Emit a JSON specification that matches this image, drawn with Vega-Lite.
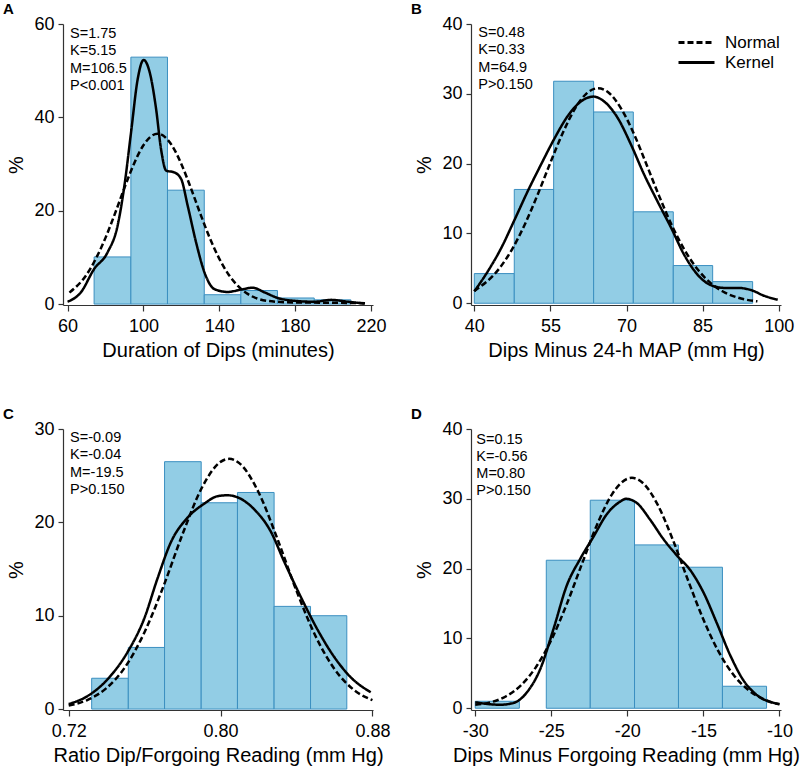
{
  "$schema": "https://vega.github.io/schema/vega-lite/v6.json",
  "padding": {"left": 2, "top": 2, "right": 5, "bottom": 5},
  "background": "white",
  "config": {
    "view": {"stroke": null},
    "font": "Liberation Sans",
    "axis": {
      "grid": false,
      "domainColor": "#333333",
      "tickColor": "#333333",
      "domainWidth": 1.2,
      "tickWidth": 1.2,
      "labelFont": "Liberation Sans",
      "labelFontSize": 18,
      "labelColor": "black",
      "titleFont": "Liberation Sans",
      "titleFontSize": 20,
      "titleFontWeight": "normal",
      "titleColor": "black"
    },
    "axisX": {"tickSize": 6, "labelPadding": 6, "titlePadding": 5, "labelFlush": false},
    "axisY": {"tickSize": 5, "labelPadding": 4, "titlePadding": 7, "labelFlush": false},
    "title": {"anchor": "start", "fontSize": 15, "fontWeight": "bold", "font": "Liberation Sans", "color": "black", "offset": -2, "dx": -4},
    "text": {"align": "left", "baseline": "alphabetic", "fontSize": 14.5, "color": "black", "font": "Liberation Sans"}
  },
  "datasets": {
    "bars": [
      {"panel": "A", "lo": 74.0, "hi": 93.4, "pct": 10.1},
      {"panel": "A", "lo": 93.4, "hi": 112.7, "pct": 52.9},
      {"panel": "A", "lo": 112.7, "hi": 132.1, "pct": 24.4},
      {"panel": "A", "lo": 132.1, "hi": 151.4, "pct": 2.0},
      {"panel": "A", "lo": 151.4, "hi": 170.7, "pct": 2.9},
      {"panel": "A", "lo": 170.7, "hi": 190.1, "pct": 1.3},
      {"panel": "A", "lo": 190.1, "hi": 209.4, "pct": 0.9},
      {"panel": "B", "lo": 40.0, "hi": 47.88, "pct": 4.25},
      {"panel": "B", "lo": 47.88, "hi": 55.64, "pct": 16.3},
      {"panel": "B", "lo": 55.64, "hi": 63.52, "pct": 31.8},
      {"panel": "B", "lo": 63.52, "hi": 71.34, "pct": 27.4},
      {"panel": "B", "lo": 71.34, "hi": 79.22, "pct": 13.1},
      {"panel": "B", "lo": 79.22, "hi": 86.98, "pct": 5.4},
      {"panel": "B", "lo": 86.98, "hi": 94.86, "pct": 3.1},
      {"panel": "C", "lo": 0.7321, "hi": 0.7514, "pct": 3.3},
      {"panel": "C", "lo": 0.7514, "hi": 0.7705, "pct": 6.6},
      {"panel": "C", "lo": 0.7705, "hi": 0.7898, "pct": 26.5},
      {"panel": "C", "lo": 0.7898, "hi": 0.8089, "pct": 22.1},
      {"panel": "C", "lo": 0.8089, "hi": 0.8282, "pct": 23.2},
      {"panel": "C", "lo": 0.8282, "hi": 0.8474, "pct": 11.0},
      {"panel": "C", "lo": 0.8474, "hi": 0.8665, "pct": 10.0},
      {"panel": "D", "lo": -30.0, "hi": -27.1, "pct": 1.0},
      {"panel": "D", "lo": -25.33, "hi": -22.44, "pct": 21.2},
      {"panel": "D", "lo": -22.44, "hi": -19.53, "pct": 29.8},
      {"panel": "D", "lo": -19.53, "hi": -16.64, "pct": 23.4},
      {"panel": "D", "lo": -16.64, "hi": -13.75, "pct": 20.2},
      {"panel": "D", "lo": -13.75, "hi": -10.85, "pct": 3.15}
    ],
    "stats": [
      {"panel": "A", "line": 1, "text": "S=1.75"},
      {"panel": "A", "line": 2, "text": "K=5.15"},
      {"panel": "A", "line": 3, "text": "M=106.5"},
      {"panel": "A", "line": 4, "text": "P<0.001"},
      {"panel": "B", "line": 1, "text": "S=0.48"},
      {"panel": "B", "line": 2, "text": "K=0.33"},
      {"panel": "B", "line": 3, "text": "M=64.9"},
      {"panel": "B", "line": 4, "text": "P>0.150"},
      {"panel": "C", "line": 1, "text": "S=-0.09"},
      {"panel": "C", "line": 2, "text": "K=-0.04"},
      {"panel": "C", "line": 3, "text": "M=-19.5"},
      {"panel": "C", "line": 4, "text": "P>0.150"},
      {"panel": "D", "line": 1, "text": "S=0.15"},
      {"panel": "D", "line": 2, "text": "K=-0.56"},
      {"panel": "D", "line": 3, "text": "M=0.80"},
      {"panel": "D", "line": 4, "text": "P>0.150"}
    ],
    "curves": [
      {"panel": "A", "curve": "Normal", "x": 61, "y": 2.45},
      {"panel": "A", "curve": "Normal", "x": 70, "y": 6.29},
      {"panel": "A", "curve": "Normal", "x": 80, "y": 14.18},
      {"panel": "A", "curve": "Normal", "x": 85, "y": 19.38},
      {"panel": "A", "curve": "Normal", "x": 90, "y": 24.89},
      {"panel": "A", "curve": "Normal", "x": 95, "y": 30.03},
      {"panel": "A", "curve": "Normal", "x": 100, "y": 34.02},
      {"panel": "A", "curve": "Normal", "x": 107.5, "y": 36.5},
      {"panel": "A", "curve": "Normal", "x": 115, "y": 34.02},
      {"panel": "A", "curve": "Normal", "x": 120, "y": 30.03},
      {"panel": "A", "curve": "Normal", "x": 125, "y": 24.89},
      {"panel": "A", "curve": "Normal", "x": 130, "y": 19.38},
      {"panel": "A", "curve": "Normal", "x": 135, "y": 14.18},
      {"panel": "A", "curve": "Normal", "x": 140, "y": 9.75},
      {"panel": "A", "curve": "Normal", "x": 145, "y": 6.29},
      {"panel": "A", "curve": "Normal", "x": 150, "y": 3.82},
      {"panel": "A", "curve": "Normal", "x": 155, "y": 2.18},
      {"panel": "A", "curve": "Normal", "x": 160, "y": 1.2},
      {"panel": "A", "curve": "Normal", "x": 170, "y": 0.5},
      {"panel": "A", "curve": "Normal", "x": 180, "y": 0.35},
      {"panel": "A", "curve": "Normal", "x": 195, "y": 0.3},
      {"panel": "A", "curve": "Normal", "x": 217, "y": 0.2},
      {"panel": "A", "curve": "Kernel", "x": 60, "y": 0.5},
      {"panel": "A", "curve": "Kernel", "x": 67, "y": 2.5},
      {"panel": "A", "curve": "Kernel", "x": 74, "y": 7.5},
      {"panel": "A", "curve": "Kernel", "x": 81, "y": 11.0},
      {"panel": "A", "curve": "Kernel", "x": 86.4, "y": 16.8},
      {"panel": "A", "curve": "Kernel", "x": 90, "y": 25.4},
      {"panel": "A", "curve": "Kernel", "x": 93.5, "y": 36.8},
      {"panel": "A", "curve": "Kernel", "x": 97, "y": 48.2},
      {"panel": "A", "curve": "Kernel", "x": 100.1, "y": 52.3},
      {"panel": "A", "curve": "Kernel", "x": 103.1, "y": 50.0},
      {"panel": "A", "curve": "Kernel", "x": 106.7, "y": 41.8},
      {"panel": "A", "curve": "Kernel", "x": 109.3, "y": 33.2},
      {"panel": "A", "curve": "Kernel", "x": 112, "y": 28.6},
      {"panel": "A", "curve": "Kernel", "x": 116.3, "y": 28.2},
      {"panel": "A", "curve": "Kernel", "x": 119.9, "y": 26.8},
      {"panel": "A", "curve": "Kernel", "x": 123.4, "y": 21.0},
      {"panel": "A", "curve": "Kernel", "x": 127.8, "y": 13.2},
      {"panel": "A", "curve": "Kernel", "x": 132.2, "y": 6.8},
      {"panel": "A", "curve": "Kernel", "x": 137.5, "y": 3.2},
      {"panel": "A", "curve": "Kernel", "x": 144.5, "y": 2.6},
      {"panel": "A", "curve": "Kernel", "x": 151.5, "y": 3.1},
      {"panel": "A", "curve": "Kernel", "x": 157.7, "y": 3.5},
      {"panel": "A", "curve": "Kernel", "x": 163.9, "y": 2.5},
      {"panel": "A", "curve": "Kernel", "x": 170.9, "y": 1.3},
      {"panel": "A", "curve": "Kernel", "x": 179.7, "y": 0.7},
      {"panel": "A", "curve": "Kernel", "x": 190.3, "y": 0.5},
      {"panel": "A", "curve": "Kernel", "x": 199, "y": 0.9},
      {"panel": "A", "curve": "Kernel", "x": 207.9, "y": 0.5},
      {"panel": "A", "curve": "Kernel", "x": 216.7, "y": 0.1},
      {"panel": "B", "curve": "Normal", "x": 40, "y": 1.76},
      {"panel": "B", "curve": "Normal", "x": 45, "y": 5.05},
      {"panel": "B", "curve": "Normal", "x": 47.5, "y": 7.8},
      {"panel": "B", "curve": "Normal", "x": 50, "y": 11.36},
      {"panel": "B", "curve": "Normal", "x": 52.5, "y": 15.59},
      {"panel": "B", "curve": "Normal", "x": 55, "y": 20.14},
      {"panel": "B", "curve": "Normal", "x": 57.5, "y": 24.5},
      {"panel": "B", "curve": "Normal", "x": 60, "y": 28.06},
      {"panel": "B", "curve": "Normal", "x": 62, "y": 29.96},
      {"panel": "B", "curve": "Normal", "x": 64.4, "y": 30.8},
      {"panel": "B", "curve": "Normal", "x": 66.5, "y": 30.16},
      {"panel": "B", "curve": "Normal", "x": 69, "y": 27.81},
      {"panel": "B", "curve": "Normal", "x": 71.5, "y": 24.2},
      {"panel": "B", "curve": "Normal", "x": 74, "y": 19.78},
      {"panel": "B", "curve": "Normal", "x": 76.5, "y": 15.24},
      {"panel": "B", "curve": "Normal", "x": 79, "y": 11.06},
      {"panel": "B", "curve": "Normal", "x": 81.5, "y": 7.56},
      {"panel": "B", "curve": "Normal", "x": 84, "y": 4.86},
      {"panel": "B", "curve": "Normal", "x": 86.5, "y": 2.95},
      {"panel": "B", "curve": "Normal", "x": 89, "y": 1.68},
      {"panel": "B", "curve": "Normal", "x": 92, "y": 0.79},
      {"panel": "B", "curve": "Normal", "x": 95.8, "y": 0.27},
      {"panel": "B", "curve": "Kernel", "x": 40, "y": 1.7},
      {"panel": "B", "curve": "Kernel", "x": 42.6, "y": 4.5},
      {"panel": "B", "curve": "Kernel", "x": 45.3, "y": 7.9},
      {"panel": "B", "curve": "Kernel", "x": 47.9, "y": 11.9},
      {"panel": "B", "curve": "Kernel", "x": 50.5, "y": 16.0},
      {"panel": "B", "curve": "Kernel", "x": 53.1, "y": 19.8},
      {"panel": "B", "curve": "Kernel", "x": 55.8, "y": 23.6},
      {"panel": "B", "curve": "Kernel", "x": 58.4, "y": 26.8},
      {"panel": "B", "curve": "Kernel", "x": 61, "y": 28.9},
      {"panel": "B", "curve": "Kernel", "x": 63.5, "y": 29.6},
      {"panel": "B", "curve": "Kernel", "x": 65.6, "y": 28.9},
      {"panel": "B", "curve": "Kernel", "x": 68.3, "y": 26.5},
      {"panel": "B", "curve": "Kernel", "x": 70.9, "y": 22.7},
      {"panel": "B", "curve": "Kernel", "x": 73.5, "y": 18.4},
      {"panel": "B", "curve": "Kernel", "x": 76.1, "y": 14.6},
      {"panel": "B", "curve": "Kernel", "x": 78.8, "y": 10.8},
      {"panel": "B", "curve": "Kernel", "x": 81.4, "y": 6.9},
      {"panel": "B", "curve": "Kernel", "x": 84, "y": 4.1},
      {"panel": "B", "curve": "Kernel", "x": 86.6, "y": 2.6},
      {"panel": "B", "curve": "Kernel", "x": 89.3, "y": 2.2},
      {"panel": "B", "curve": "Kernel", "x": 91.9, "y": 2.2},
      {"panel": "B", "curve": "Kernel", "x": 94.5, "y": 1.9},
      {"panel": "B", "curve": "Kernel", "x": 97.2, "y": 1.05},
      {"panel": "B", "curve": "Kernel", "x": 99.8, "y": 0.5},
      {"panel": "C", "curve": "Normal", "x": 0.72, "y": 0.38},
      {"panel": "C", "curve": "Normal", "x": 0.73, "y": 0.99},
      {"panel": "C", "curve": "Normal", "x": 0.74, "y": 2.26},
      {"panel": "C", "curve": "Normal", "x": 0.75, "y": 4.58},
      {"panel": "C", "curve": "Normal", "x": 0.76, "y": 8.26},
      {"panel": "C", "curve": "Normal", "x": 0.77, "y": 13.2},
      {"panel": "C", "curve": "Normal", "x": 0.78, "y": 18.75},
      {"panel": "C", "curve": "Normal", "x": 0.79, "y": 23.65},
      {"panel": "C", "curve": "Normal", "x": 0.80, "y": 26.48},
      {"panel": "C", "curve": "Normal", "x": 0.8045, "y": 26.8},
      {"panel": "C", "curve": "Normal", "x": 0.81, "y": 26.32},
      {"panel": "C", "curve": "Normal", "x": 0.82, "y": 23.23},
      {"panel": "C", "curve": "Normal", "x": 0.83, "y": 18.2},
      {"panel": "C", "curve": "Normal", "x": 0.84, "y": 12.67},
      {"panel": "C", "curve": "Normal", "x": 0.85, "y": 7.83},
      {"panel": "C", "curve": "Normal", "x": 0.86, "y": 4.29},
      {"panel": "C", "curve": "Normal", "x": 0.87, "y": 2.09},
      {"panel": "C", "curve": "Normal", "x": 0.88, "y": 0.95},
      {"panel": "C", "curve": "Kernel", "x": 0.72, "y": 0.54},
      {"panel": "C", "curve": "Kernel", "x": 0.73, "y": 1.4},
      {"panel": "C", "curve": "Kernel", "x": 0.7405, "y": 3.2},
      {"panel": "C", "curve": "Kernel", "x": 0.751, "y": 6.1},
      {"panel": "C", "curve": "Kernel", "x": 0.7598, "y": 9.7},
      {"panel": "C", "curve": "Kernel", "x": 0.7668, "y": 14.0},
      {"panel": "C", "curve": "Kernel", "x": 0.7739, "y": 17.9},
      {"panel": "C", "curve": "Kernel", "x": 0.7826, "y": 20.5},
      {"panel": "C", "curve": "Kernel", "x": 0.7914, "y": 22.0},
      {"panel": "C", "curve": "Kernel", "x": 0.7984, "y": 22.8},
      {"panel": "C", "curve": "Kernel", "x": 0.8037, "y": 22.9},
      {"panel": "C", "curve": "Kernel", "x": 0.8072, "y": 22.8},
      {"panel": "C", "curve": "Kernel", "x": 0.8177, "y": 21.4},
      {"panel": "C", "curve": "Kernel", "x": 0.8265, "y": 19.0},
      {"panel": "C", "curve": "Kernel", "x": 0.8335, "y": 15.8},
      {"panel": "C", "curve": "Kernel", "x": 0.8423, "y": 12.0},
      {"panel": "C", "curve": "Kernel", "x": 0.8511, "y": 8.5},
      {"panel": "C", "curve": "Kernel", "x": 0.8598, "y": 5.6},
      {"panel": "C", "curve": "Kernel", "x": 0.8686, "y": 3.4},
      {"panel": "C", "curve": "Kernel", "x": 0.8791, "y": 1.8},
      {"panel": "D", "curve": "Normal", "x": -30, "y": 0.5},
      {"panel": "D", "curve": "Normal", "x": -29, "y": 0.85},
      {"panel": "D", "curve": "Normal", "x": -28, "y": 1.68},
      {"panel": "D", "curve": "Normal", "x": -27, "y": 3.29},
      {"panel": "D", "curve": "Normal", "x": -26, "y": 5.93},
      {"panel": "D", "curve": "Normal", "x": -25, "y": 9.79},
      {"panel": "D", "curve": "Normal", "x": -24, "y": 14.83},
      {"panel": "D", "curve": "Normal", "x": -23, "y": 20.6},
      {"panel": "D", "curve": "Normal", "x": -22, "y": 26.26},
      {"panel": "D", "curve": "Normal", "x": -21, "y": 30.68},
      {"panel": "D", "curve": "Normal", "x": -20, "y": 32.87},
      {"panel": "D", "curve": "Normal", "x": -19.7, "y": 33.0},
      {"panel": "D", "curve": "Normal", "x": -19, "y": 32.31},
      {"panel": "D", "curve": "Normal", "x": -18, "y": 29.12},
      {"panel": "D", "curve": "Normal", "x": -17, "y": 24.08},
      {"panel": "D", "curve": "Normal", "x": -16, "y": 18.26},
      {"panel": "D", "curve": "Normal", "x": -15, "y": 12.7},
      {"panel": "D", "curve": "Normal", "x": -14, "y": 8.1},
      {"panel": "D", "curve": "Normal", "x": -13, "y": 4.73},
      {"panel": "D", "curve": "Normal", "x": -12, "y": 2.54},
      {"panel": "D", "curve": "Normal", "x": -11, "y": 1.25},
      {"panel": "D", "curve": "Normal", "x": -10, "y": 0.56},
      {"panel": "D", "curve": "Kernel", "x": -30, "y": 0.86},
      {"panel": "D", "curve": "Kernel", "x": -29.23, "y": 0.62},
      {"panel": "D", "curve": "Kernel", "x": -28.36, "y": 0.5},
      {"panel": "D", "curve": "Kernel", "x": -27.48, "y": 0.76},
      {"panel": "D", "curve": "Kernel", "x": -26.6, "y": 2.3},
      {"panel": "D", "curve": "Kernel", "x": -25.73, "y": 5.6},
      {"panel": "D", "curve": "Kernel", "x": -24.85, "y": 11.4},
      {"panel": "D", "curve": "Kernel", "x": -23.98, "y": 17.6},
      {"panel": "D", "curve": "Kernel", "x": -23.1, "y": 21.4},
      {"panel": "D", "curve": "Kernel", "x": -22.22, "y": 24.6},
      {"panel": "D", "curve": "Kernel", "x": -21.35, "y": 27.8},
      {"panel": "D", "curve": "Kernel", "x": -20.47, "y": 29.6},
      {"panel": "D", "curve": "Kernel", "x": -20.1, "y": 30.0},
      {"panel": "D", "curve": "Kernel", "x": -19.38, "y": 29.4},
      {"panel": "D", "curve": "Kernel", "x": -18.5, "y": 27.0},
      {"panel": "D", "curve": "Kernel", "x": -17.62, "y": 24.2},
      {"panel": "D", "curve": "Kernel", "x": -16.75, "y": 21.9},
      {"panel": "D", "curve": "Kernel", "x": -15.87, "y": 19.8},
      {"panel": "D", "curve": "Kernel", "x": -15.0, "y": 16.6},
      {"panel": "D", "curve": "Kernel", "x": -14.12, "y": 12.2},
      {"panel": "D", "curve": "Kernel", "x": -13.24, "y": 7.6},
      {"panel": "D", "curve": "Kernel", "x": -12.37, "y": 4.0},
      {"panel": "D", "curve": "Kernel", "x": -11.49, "y": 1.9},
      {"panel": "D", "curve": "Kernel", "x": -10.0, "y": 0.6}
    ]
  },
  "columns": 2,
  "spacing": {"row": 124, "column": 98},
  "bounds": "flush",
  "resolve": {"scale": {"strokeDash": "independent"}, "legend": {"strokeDash": "independent"}},
  "concat": [
    {
      "width": 310, "height": 281,
      "title": {"text": "A"},
      "layer": [
        {
          "data": {"name": "bars"},
          "transform": [{"filter": "datum.panel == 'A'"}],
          "mark": {"type": "rect", "fill": "#92CDE5", "stroke": "#3B8FC0", "strokeWidth": 1},
          "encoding": {
            "x": {"field": "lo", "type": "quantitative", "scale": {"domain": [57.6, 221.1], "nice": false, "zero": false},
                  "axis": {"values": [60, 100, 140, 180, 220], "title": "Duration of Dips (minutes)"}},
            "x2": {"field": "hi"},
            "y": {"field": "pct", "type": "quantitative", "scale": {"domain": [-0.2, 60], "nice": false, "zero": false},
                  "axis": {"values": [0, 20, 40, 60], "title": "%"}},
            "y2": {"datum": 0}
          }
        },
        {
          "data": {"name": "curves"},
          "transform": [{"filter": "datum.panel == 'A'"}],
          "mark": {"type": "line", "color": "black", "strokeWidth": 2.5, "interpolate": "monotone"},
          "encoding": {
            "x": {"field": "x", "type": "quantitative"},
            "y": {"field": "y", "type": "quantitative"},
            "strokeDash": {"field": "curve", "type": "nominal", "scale": {"domain": ["Normal", "Kernel"], "range": [[6, 3], [1, 0]]}, "legend": null}
          }
        },
        {"data": {"name": "stats"}, "transform": [{"filter": "datum.panel == 'A' && datum.line == 1"}], "mark": "text",
         "encoding": {"x": {"datum": 61.3}, "y": {"datum": 57.0}, "text": {"field": "text"}}},
        {"data": {"name": "stats"}, "transform": [{"filter": "datum.panel == 'A' && datum.line == 2"}], "mark": "text",
         "encoding": {"x": {"datum": 61.3}, "y": {"datum": 53.27}, "text": {"field": "text"}}},
        {"data": {"name": "stats"}, "transform": [{"filter": "datum.panel == 'A' && datum.line == 3"}], "mark": "text",
         "encoding": {"x": {"datum": 61.3}, "y": {"datum": 49.55}, "text": {"field": "text"}}},
        {"data": {"name": "stats"}, "transform": [{"filter": "datum.panel == 'A' && datum.line == 4"}], "mark": "text",
         "encoding": {"x": {"datum": 61.3}, "y": {"datum": 45.82}, "text": {"field": "text"}}}
      ]
    },
    {
      "width": 310, "height": 281,
      "title": {"text": "B"},
      "layer": [
        {
          "data": {"name": "bars"},
          "transform": [{"filter": "datum.panel == 'B'"}],
          "mark": {"type": "rect", "fill": "#92CDE5", "stroke": "#3B8FC0", "strokeWidth": 1},
          "encoding": {
            "x": {"field": "lo", "type": "quantitative", "scale": {"domain": [39.35, 100.45], "nice": false, "zero": false},
                  "axis": {"values": [40, 55, 70, 85, 100], "title": "Dips Minus 24-h MAP (mm Hg)"}},
            "x2": {"field": "hi"},
            "y": {"field": "pct", "type": "quantitative", "scale": {"domain": [-0.25, 40], "nice": false, "zero": false},
                  "axis": {"values": [0, 10, 20, 30, 40], "title": "%"}},
            "y2": {"datum": 0}
          }
        },
        {
          "data": {"name": "curves"},
          "transform": [{"filter": "datum.panel == 'B'"}],
          "mark": {"type": "line", "color": "black", "strokeWidth": 2.5, "interpolate": "monotone"},
          "encoding": {
            "x": {"field": "x", "type": "quantitative"},
            "y": {"field": "y", "type": "quantitative"},
            "strokeDash": {"field": "curve", "type": "nominal", "scale": {"domain": ["Normal", "Kernel"], "range": [[6, 3], [1, 0]]},
              "legend": {"orient": "none", "legendX": 215, "legendY": 8, "title": null, "padding": 0, "labelFontSize": 17, "labelFont": "Liberation Sans", "labelColor": "black",
                         "symbolType": "M-2,0H2", "symbolSize": 324, "symbolStrokeWidth": 3, "symbolStrokeColor": "black", "labelOffset": 18, "rowPadding": 1}}
          }
        },
        {"data": {"name": "stats"}, "transform": [{"filter": "datum.panel == 'B' && datum.line == 1"}], "mark": "text",
         "encoding": {"x": {"datum": 40.8}, "y": {"datum": 38.18}, "text": {"field": "text"}}},
        {"data": {"name": "stats"}, "transform": [{"filter": "datum.panel == 'B' && datum.line == 2"}], "mark": "text",
         "encoding": {"x": {"datum": 40.8}, "y": {"datum": 35.70}, "text": {"field": "text"}}},
        {"data": {"name": "stats"}, "transform": [{"filter": "datum.panel == 'B' && datum.line == 3"}], "mark": "text",
         "encoding": {"x": {"datum": 40.8}, "y": {"datum": 33.17}, "text": {"field": "text"}}},
        {"data": {"name": "stats"}, "transform": [{"filter": "datum.panel == 'B' && datum.line == 4"}], "mark": "text",
         "encoding": {"x": {"datum": 40.8}, "y": {"datum": 30.69}, "text": {"field": "text"}}}
      ]
    },
    {
      "width": 310, "height": 281,
      "title": {"text": "C"},
      "layer": [
        {
          "data": {"name": "bars"},
          "transform": [{"filter": "datum.panel == 'C'"}],
          "mark": {"type": "rect", "fill": "#92CDE5", "stroke": "#3B8FC0", "strokeWidth": 1},
          "encoding": {
            "x": {"field": "lo", "type": "quantitative", "scale": {"domain": [0.717, 0.8803], "nice": false, "zero": false},
                  "axis": {"values": [0.72, 0.80, 0.88], "format": ".2f", "title": "Ratio Dip/Forgoing Reading (mm Hg)"}},
            "x2": {"field": "hi"},
            "y": {"field": "pct", "type": "quantitative", "scale": {"domain": [-0.1, 30], "nice": false, "zero": false},
                  "axis": {"values": [0, 10, 20, 30], "title": "%"}},
            "y2": {"datum": 0}
          }
        },
        {
          "data": {"name": "curves"},
          "transform": [{"filter": "datum.panel == 'C'"}],
          "mark": {"type": "line", "color": "black", "strokeWidth": 2.5, "interpolate": "monotone"},
          "encoding": {
            "x": {"field": "x", "type": "quantitative"},
            "y": {"field": "y", "type": "quantitative"},
            "strokeDash": {"field": "curve", "type": "nominal", "scale": {"domain": ["Normal", "Kernel"], "range": [[6, 3], [1, 0]]}, "legend": null}
          }
        },
        {"data": {"name": "stats"}, "transform": [{"filter": "datum.panel == 'C' && datum.line == 1"}], "mark": "text",
         "encoding": {"x": {"datum": 0.7207}, "y": {"datum": 28.61}, "text": {"field": "text"}}},
        {"data": {"name": "stats"}, "transform": [{"filter": "datum.panel == 'C' && datum.line == 2"}], "mark": "text",
         "encoding": {"x": {"datum": 0.7207}, "y": {"datum": 26.75}, "text": {"field": "text"}}},
        {"data": {"name": "stats"}, "transform": [{"filter": "datum.panel == 'C' && datum.line == 3"}], "mark": "text",
         "encoding": {"x": {"datum": 0.7207}, "y": {"datum": 24.89}, "text": {"field": "text"}}},
        {"data": {"name": "stats"}, "transform": [{"filter": "datum.panel == 'C' && datum.line == 4"}], "mark": "text",
         "encoding": {"x": {"datum": 0.7207}, "y": {"datum": 23.07}, "text": {"field": "text"}}}
      ]
    },
    {
      "width": 310, "height": 281,
      "title": {"text": "D"},
      "layer": [
        {
          "data": {"name": "bars"},
          "transform": [{"filter": "datum.panel == 'D'"}],
          "mark": {"type": "rect", "fill": "#92CDE5", "stroke": "#3B8FC0", "strokeWidth": 1},
          "encoding": {
            "x": {"field": "lo", "type": "quantitative", "scale": {"domain": [-30.28, -9.9], "nice": false, "zero": false},
                  "axis": {"values": [-30, -25, -20, -15, -10], "labelExpr": "'' + datum.value", "title": "Dips Minus Forgoing Reading (mm Hg)"}},
            "x2": {"field": "hi"},
            "y": {"field": "pct", "type": "quantitative", "scale": {"domain": [-0.25, 40], "nice": false, "zero": false},
                  "axis": {"values": [0, 10, 20, 30, 40], "title": "%"}},
            "y2": {"datum": 0}
          }
        },
        {
          "data": {"name": "curves"},
          "transform": [{"filter": "datum.panel == 'D'"}],
          "mark": {"type": "line", "color": "black", "strokeWidth": 2.5, "interpolate": "monotone"},
          "encoding": {
            "x": {"field": "x", "type": "quantitative"},
            "y": {"field": "y", "type": "quantitative"},
            "strokeDash": {"field": "curve", "type": "nominal", "scale": {"domain": ["Normal", "Kernel"], "range": [[6, 3], [1, 0]]}, "legend": null}
          }
        },
        {"data": {"name": "stats"}, "transform": [{"filter": "datum.panel == 'D' && datum.line == 1"}], "mark": "text",
         "encoding": {"x": {"datum": -29.93}, "y": {"datum": 37.89}, "text": {"field": "text"}}},
        {"data": {"name": "stats"}, "transform": [{"filter": "datum.panel == 'D' && datum.line == 2"}], "mark": "text",
         "encoding": {"x": {"datum": -29.93}, "y": {"datum": 35.42}, "text": {"field": "text"}}},
        {"data": {"name": "stats"}, "transform": [{"filter": "datum.panel == 'D' && datum.line == 3"}], "mark": "text",
         "encoding": {"x": {"datum": -29.93}, "y": {"datum": 32.92}, "text": {"field": "text"}}},
        {"data": {"name": "stats"}, "transform": [{"filter": "datum.panel == 'D' && datum.line == 4"}], "mark": "text",
         "encoding": {"x": {"datum": -29.93}, "y": {"datum": 30.49}, "text": {"field": "text"}}}
      ]
    }
  ]
}
